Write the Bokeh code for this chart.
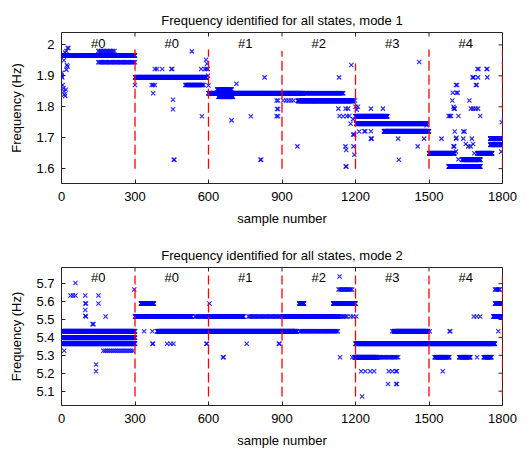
import numpy as np
from bokeh.plotting import figure
from bokeh.layouts import column
from bokeh.models import FixedTicker, ColumnDataSource
from bokeh.core.properties import value
from bokeh.embed import file_html
from bokeh.resources import INLINE

FONT = "Liberation Sans"

# ---------------- data: mode 1 ----------------
# runs of constant identified frequency: start sample, end sample, frequency, sample spacing
m1_run_start = [5, 150, 150, 300, 505, 600, 985, 635, 640, 965, 917, 1200, 1203, 1316, 1500, 1580, 1636, 1697, 1750, 1750]
m1_run_end   = [300, 220, 300, 590, 580, 985, 1150, 695, 700, 1190, 956, 1330, 1490, 1500, 1604, 1710, 1710, 1758, 1800, 1800]
m1_run_freq  = [1.9655, 1.98, 1.944, 1.8955, 1.870, 1.844, 1.844, 1.856, 1.832, 1.819, 1.82, 1.769, 1.745, 1.721, 1.650, 1.607, 1.629, 1.650, 1.677, 1.697]
m1_run_step  = [1, 6, 5, 1, 3, 1, 3, 2, 2, 1, 10, 1, 1, 1, 1, 1, 1, 1, 1, 1]

m1_pts_x = [0, 2, 3, 5, 8, 10, 12, 15, 18, 20, 22, 25, 20, 15, 28, 5, 10, 25,
            300, 368, 374, 381, 374, 381, 390, 411, 449, 452, 455, 455, 458, 461, 532, 573, 570, 585, 592, 597, 590, 594, 598, 600,
            714, 694, 773, 829, 812, 815, 878, 884, 880, 884, 878, 884, 905,
            963, 1133, 1130, 1135, 1150, 1160, 1165, 1170, 1175, 1180, 1159, 1162, 1160, 1163, 1183, 1190, 1195, 1192, 1195, 1198, 1200, 1190,
            1236, 1240, 1263, 1263, 1266, 1263, 1312, 1374, 1377, 1454, 1460, 1480, 1490, 1205, 1210, 1215,
            1551, 1580, 1585, 1590, 1595, 1597, 1600, 1602, 1605, 1610, 1612, 1615, 1617, 1605, 1610, 1600, 1603, 1620, 1612, 1610, 1620,
            1640, 1645, 1640, 1650, 1660, 1665, 1670, 1675, 1680, 1685, 1671, 1680, 1690, 1700, 1709, 1678, 1682, 1691, 1695, 1698, 1702,
            1700, 1735, 1738, 1738, 1797, 1795]
m1_pts_y = [1.90, 1.91, 1.895, 1.87, 1.86, 1.85, 1.84, 1.835, 1.855, 1.92, 1.935, 1.99, 1.98, 1.975, 1.99, 1.97, 1.95, 1.93,
            1.87, 1.87, 1.87, 1.87, 1.844, 1.922, 1.922, 1.922, 1.922, 1.922, 1.823, 1.792, 1.629, 1.629, 1.979, 1.769, 1.922, 1.922, 1.922, 1.922, 1.952, 1.939, 1.90, 1.869,
            1.874, 1.756, 1.769, 1.895, 1.629, 1.629, 1.82, 1.82, 1.793, 1.793, 1.769, 1.769, 1.82,
            1.672, 1.895, 1.794, 1.77, 1.769, 1.794, 1.77, 1.794, 1.77, 1.745, 1.672, 1.66, 1.607, 1.607, 1.935, 1.71, 1.71, 1.672, 1.645, 1.82, 1.80, 1.76,
            1.721, 1.721, 1.721, 1.697, 1.697, 1.794, 1.794, 1.697, 1.629, 1.672, 1.945, 1.697, 1.74, 1.79, 1.80, 1.72,
            1.697, 1.77, 1.77, 1.77, 1.82, 1.845, 1.80, 1.794, 1.794, 1.87, 1.845, 1.87, 1.845, 1.72, 1.697, 1.672, 1.672, 1.77, 1.70, 1.655, 1.63,
            1.72, 1.72, 1.697, 1.68, 1.672, 1.82, 1.672, 1.697, 1.68, 1.65, 1.794, 1.794, 1.794, 1.794, 1.77, 1.895, 1.895, 1.87, 1.87, 1.922, 1.922,
            1.895, 1.922, 1.922, 1.895, 1.75, 1.655]

# ---------------- data: mode 2 ----------------
m2_run_start = [0, 0, 0, 171, 300, 545, 600, 763, 900, 1130, 391, 972, 324, 970, 1109, 1131, 1200, 1196, 1289, 1356, 1523, 1623, 1723, 1763, 1769, 1769]
m2_run_end   = [300, 300, 300, 291, 531, 600, 743, 893, 1130, 1167, 960, 1128, 377, 990, 1200, 1187, 1769, 1289, 1376, 1496, 1583, 1669, 1756, 1800, 1800, 1790]
m2_run_freq  = [5.434, 5.398, 5.365, 5.325, 5.516, 5.516, 5.516, 5.516, 5.516, 5.516, 5.434, 5.434, 5.589, 5.589, 5.589, 5.667, 5.365, 5.289, 5.289, 5.434, 5.289, 5.289, 5.289, 5.516, 5.589, 5.667]
m2_run_step  = [1, 1, 1, 8, 1, 4, 1, 5, 2, 6, 1, 4, 1, 1, 1, 5, 1, 1, 5, 1, 2, 2, 2, 1, 2, 4]

m2_pts_x = [11, 57, 37, 47, 57, 97, 97, 100, 97, 97, 100, 127, 130, 151, 151, 180, 141, 141, 297,
            337, 371, 371, 374, 431, 445, 457, 591, 594, 604, 659, 662, 756, 887, 890, 1135, 1137, 1187, 1203, 1190, 1180,
            1223, 1240, 1260, 1276, 1336, 1350, 1365, 1369, 1333, 1366, 1369, 1227, 1503, 1350,
            1587, 1584, 1556, 1683, 1695, 1709, 1783, 1696]
m2_pts_y = [5.325, 5.703, 5.634, 5.634, 5.634, 5.634, 5.589, 5.589, 5.553, 5.52, 5.516, 5.474, 5.474, 5.634, 5.589, 5.516, 5.249, 5.211, 5.667,
            5.434, 5.434, 5.365, 5.365, 5.365, 5.365, 5.365, 5.365, 5.365, 5.589, 5.289, 5.289, 5.365, 5.365, 5.365, 5.74, 5.289, 5.289, 5.516, 5.516, 5.516,
            5.211, 5.211, 5.211, 5.211, 5.211, 5.211, 5.211, 5.211, 5.14, 5.14, 5.14, 5.07, 5.434, 5.434,
            5.434, 5.434, 5.211, 5.516, 5.516, 5.516, 5.434, 5.289]

# state boundaries and labels
boundaries = [300, 600, 900, 1200, 1500, 1800]
m1_line_top = [1.985, 1.985, 1.98, 1.94, 1.985, 1.985]
m1_line_bottom = [1.6, 1.6, 1.6, 1.6, 1.6, 1.6]
m2_line_top = [5.745, 5.745, 5.745, 5.745, 5.745, 5.745]
m2_line_bottom = [5.07, 5.07, 5.07, 5.07, 5.07, 5.07]
state_labels = ["#0", "#0", "#1", "#2", "#3", "#4"]
state_centers = [150, 450, 750, 1050, 1350, 1650]
m1_label_y = 2.003
m2_label_y = 5.736

x_ticks = [0, 300, 600, 900, 1200, 1500, 1800]
m1_y_ticks = [1.6, 1.7, 1.8, 1.9, 2.0]
m2_y_ticks = [5.1, 5.2, 5.3, 5.4, 5.5, 5.6, 5.7]
m1_y_range = (1.552, 2.04)
m2_y_range = (5.02, 5.79)
x_range = (0, 1800)


def expand(starts, ends, freqs, steps, px, py):
    xs, ys = [], []
    for s, e, f, st in zip(starts, ends, freqs, steps):
        xx = np.arange(s, e + 1, st)
        xs.extend(xx.tolist())
        ys.extend([f] * len(xx))
    xs.extend(px)
    ys.extend(py)
    return xs, ys


def make_plot(title, xs, ys, yr, yticks, tops, bottoms, label_y, height, bl, bt, bb, overrides):
    p = figure(width=531, height=height, x_range=x_range, y_range=yr,
               output_backend="svg", toolbar_location=None,
               min_border_left=bl, min_border_right=29, min_border_top=bt, min_border_bottom=bb)
    p.title.text = title
    p.title.align = "center"
    p.title.text_font = FONT
    p.title.text_font_size = "13px"
    p.title.text_font_style = "normal"
    p.title.text_color = "#000000"
    p.title.standoff = 10
    p.grid.visible = False
    p.outline_line_color = "#262626"
    p.outline_line_width = 1
    p.background_fill_color = "white"
    p.border_fill_color = "white"

    p.scatter(xs, ys, marker="x", size=6, line_color="#0000FF", line_width=1.1, line_alpha=0.85)
    p.multi_line(xs=[[b, b] for b in boundaries], ys=[[lo, hi] for lo, hi in zip(bottoms, tops)],
                 line_color="#FF0000", line_width=1.3, line_dash="10 4")
    src = ColumnDataSource(dict(x=state_centers, y=[label_y] * len(state_centers), t=state_labels))
    p.text(x="x", y="y", text="t", source=src, text_align="center", text_baseline="middle",
           text_font=value(FONT), text_font_size="13px", text_color="#000000")

    # inward tick marks on the top and right edges of the box
    p.ray(x=x_ticks, y=[yr[1]] * len(x_ticks), length=4, length_units="screen",
          angle=-np.pi / 2, line_color="#262626", line_width=1)
    p.ray(x=[x_range[1]] * len(yticks), y=yticks, length=4, length_units="screen",
          angle=np.pi, line_color="#262626", line_width=1)

    for ax, ticks in ((p.xaxis[0], x_ticks), (p.yaxis[0], yticks)):
        ax.ticker = FixedTicker(ticks=ticks)
        ax.minor_tick_line_color = None
        ax.major_tick_in = 4
        ax.major_tick_out = 0
        ax.axis_line_color = None
        ax.major_tick_line_color = "#262626"
        ax.major_label_text_font = FONT
        ax.major_label_text_font_size = "13px"
        ax.major_label_text_color = "#000000"
        ax.axis_label_text_font = FONT
        ax.axis_label_text_font_size = "13px"
        ax.axis_label_text_font_style = "normal"
        ax.axis_label_text_color = "#000000"
    p.xaxis[0].axis_label = "sample number"
    p.yaxis[0].axis_label = "Frequency (Hz)"
    p.yaxis[0].major_label_standoff = 7
    p.yaxis[0].axis_label_standoff = 9
    p.xaxis[0].major_label_standoff = 8
    p.xaxis[0].axis_label_standoff = 7
    p.yaxis[0].major_label_overrides = overrides
    return p


x1, y1 = expand(m1_run_start, m1_run_end, m1_run_freq, m1_run_step, m1_pts_x, m1_pts_y)
x2, y2 = expand(m2_run_start, m2_run_end, m2_run_freq, m2_run_step, m2_pts_x, m2_pts_y)

p1 = make_plot("Frequency identified for all states, mode 1", x1, y1, m1_y_range, m1_y_ticks,
               m1_line_top, m1_line_bottom, m1_label_y, 230, 61, 32, 47, {2: "2"})
p2 = make_plot("Frequency identified for all states, mode 2", x2, y2, m2_y_range, m2_y_ticks,
               m2_line_top, m2_line_bottom, m2_label_y, 220, 58, 37, 42, {})

layout = column(p1, p2, spacing=0)
open("out.html", "w").write(file_html(layout, INLINE))
